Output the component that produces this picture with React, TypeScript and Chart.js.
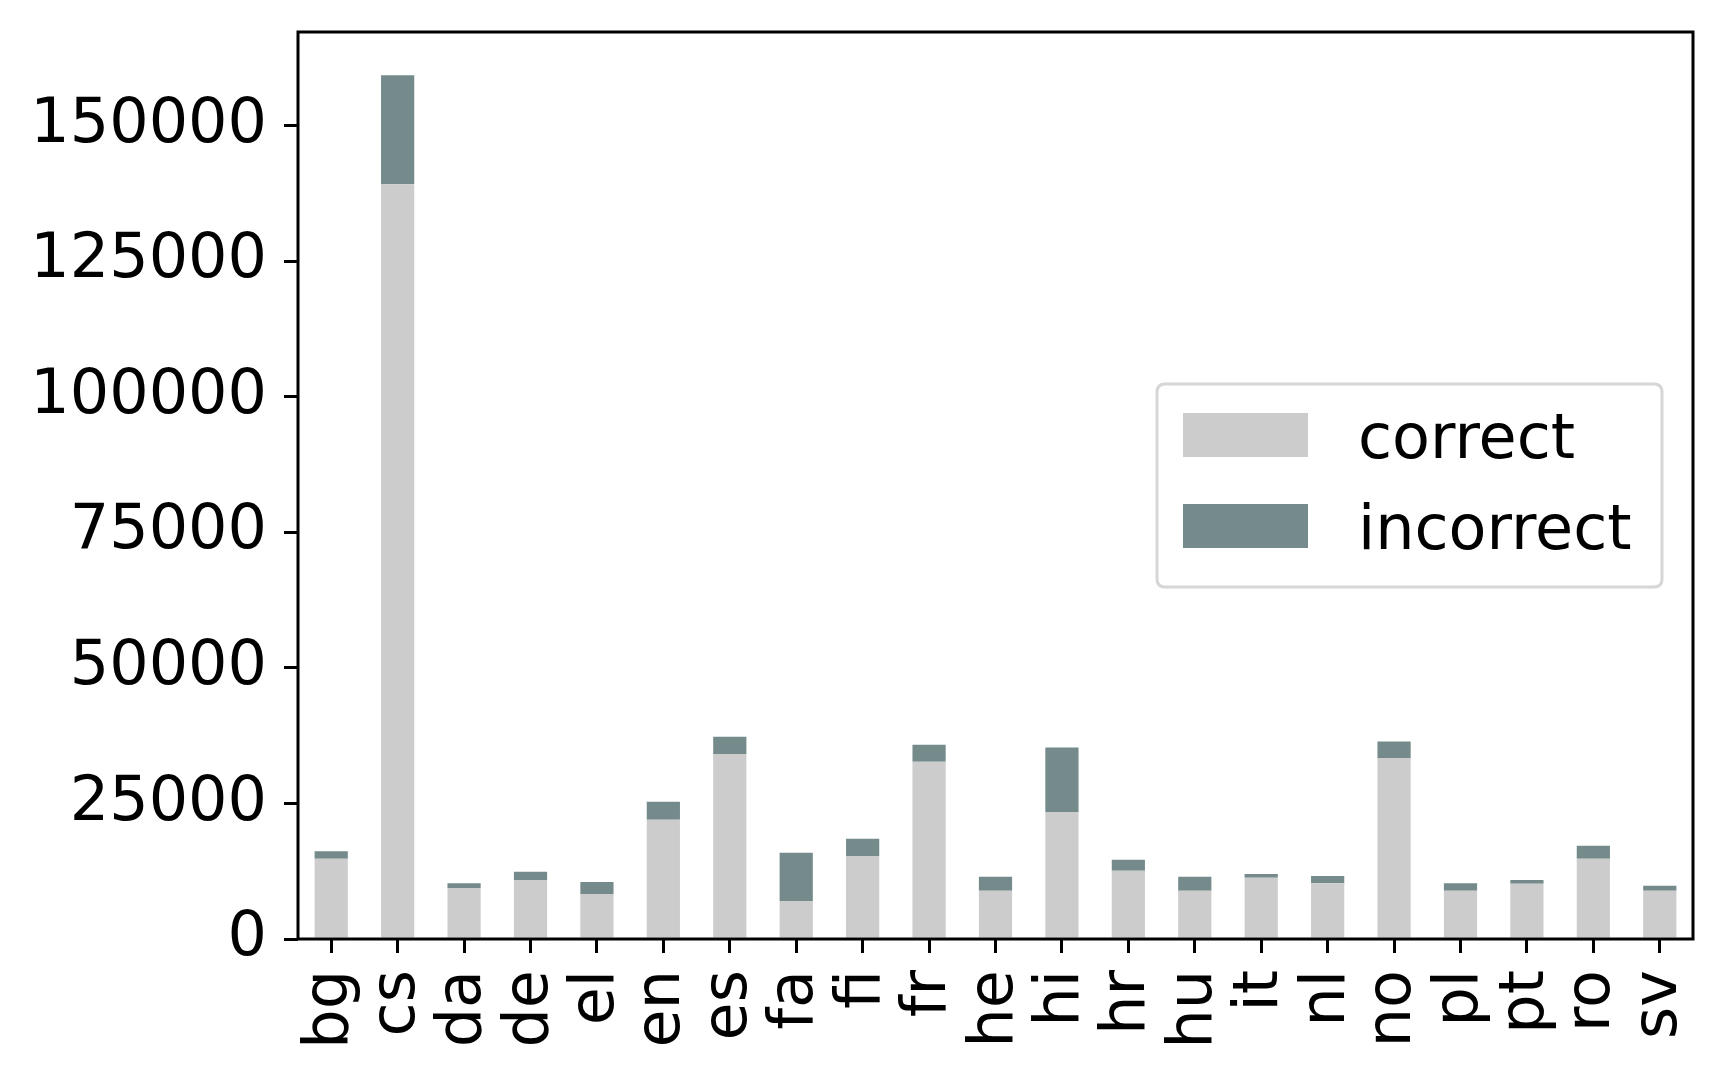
import React, { useEffect, useRef } from "react";
import { Chart, registerables } from "chart.js";

Chart.register(...registerables);

const categories = ["bg", "cs", "da", "de", "el", "en", "es", "fa", "fi", "fr", "he", "hi", "hr", "hu", "it", "nl", "no", "pl", "pt", "ro", "sv"];
const correctValues = [14800, 139200, 9400, 10900, 8300, 22000, 34100, 7000, 15300, 32700, 8900, 23400, 12600, 8900, 11300, 10300, 33400, 8900, 10200, 14800, 8900];
const incorrectValues = [1400, 20100, 900, 1500, 2200, 3300, 3200, 8900, 3200, 3100, 2600, 11900, 2000, 2600, 700, 1300, 3000, 1400, 700, 2400, 900];
const yTicks = [0, 25000, 50000, 75000, 100000, 125000, 150000];
const seriesNames = ["correct", "incorrect"];
const seriesColors = ["#cccccc", "#758b8b"];

const FONT = "'DejaVu Sans', sans-serif";
const FONT_SIZE = 62;

const framePlugin = {
  id: "frameAndLegend",
  afterDraw(chart: any) {
    const { ctx, chartArea } = chart;
    ctx.save();
    ctx.strokeStyle = "#000000";
    ctx.lineWidth = 3;
    ctx.strokeRect(chartArea.left, chartArea.top, chartArea.right - chartArea.left, chartArea.bottom - chartArea.top);
    const bx = chartArea.right - 536;
    const by = chartArea.top + 352;
    const bw = 505;
    const bh = 203;
    const r = 8;
    ctx.beginPath();
    ctx.moveTo(bx + r, by);
    ctx.lineTo(bx + bw - r, by);
    ctx.quadraticCurveTo(bx + bw, by, bx + bw, by + r);
    ctx.lineTo(bx + bw, by + bh - r);
    ctx.quadraticCurveTo(bx + bw, by + bh, bx + bw - r, by + bh);
    ctx.lineTo(bx + r, by + bh);
    ctx.quadraticCurveTo(bx, by + bh, bx, by + bh - r);
    ctx.lineTo(bx, by + r);
    ctx.quadraticCurveTo(bx, by, bx + r, by);
    ctx.closePath();
    ctx.fillStyle = "rgba(255,255,255,0.8)";
    ctx.fill();
    ctx.strokeStyle = "#d6d6d6";
    ctx.lineWidth = 3;
    ctx.stroke();
    chart.data.datasets.forEach((ds: any, i: number) => {
      const sy = by + 29 + i * 91;
      ctx.fillStyle = ds.backgroundColor;
      ctx.fillRect(bx + 26, sy, 125, 44);
      ctx.fillStyle = "#000000";
      ctx.font = `${FONT_SIZE}px ${FONT}`;
      ctx.textAlign = "left";
      ctx.textBaseline = "alphabetic";
      ctx.fillText(ds.label, bx + 201, sy + 45);
    });
    ctx.restore();
  },
};

export default function App() {
  const canvasRef = useRef<HTMLCanvasElement | null>(null);

  useEffect(() => {
    document.body.style.margin = "0";
    const canvas = canvasRef.current;
    if (!canvas) return;
    const totals = correctValues.map((v, i) => v + incorrectValues[i]);
    const yMax = Math.max(...totals) * 1.05;
    const chart = new Chart(canvas, {
      type: "bar",
      data: {
        labels: categories,
        datasets: [
          {
            label: seriesNames[0],
            data: correctValues,
            backgroundColor: seriesColors[0],
            borderWidth: 0,
            barPercentage: 0.5,
            categoryPercentage: 1,
          },
          {
            label: seriesNames[1],
            data: incorrectValues,
            backgroundColor: seriesColors[1],
            borderWidth: 0,
            barPercentage: 0.5,
            categoryPercentage: 1,
          },
        ],
      },
      options: {
        animation: false,
        responsive: true,
        maintainAspectRatio: false,
        layout: { padding: { top: 32, right: 33, left: 0, bottom: 0 } },
        plugins: {
          legend: { display: false },
          tooltip: { enabled: false },
        },
        scales: {
          x: {
            stacked: true,
            offset: true,
            grid: {
              offset: false,
              drawOnChartArea: false,
              drawTicks: true,
              tickLength: 14,
              tickWidth: 3,
              tickColor: "#000000",
              color: "#000000",
              lineWidth: 3,
            },
            border: { display: false },
            ticks: {
              autoSkip: false,
              minRotation: 90,
              maxRotation: 90,
              padding: 17,
              color: "#000000",
              font: { family: FONT, size: FONT_SIZE },
            },
            afterFit: (scale: any) => {
              scale.height = 138;
              scale.paddingLeft = 0;
              scale.paddingRight = 0;
              scale.paddingTop = 0;
              scale.paddingBottom = 0;
            },
          },
          y: {
            stacked: true,
            min: 0,
            max: yMax,
            grid: {
              drawOnChartArea: false,
              drawTicks: true,
              tickLength: 14,
              tickWidth: 3,
              tickColor: "#000000",
              color: "#000000",
              lineWidth: 3,
            },
            border: { display: false },
            afterBuildTicks: (scale: any) => {
              scale.ticks = yTicks.map((v) => ({ value: v }));
            },
            ticks: {
              includeBounds: false,
              padding: 17,
              color: "#000000",
              font: { family: FONT, size: FONT_SIZE },
              callback: (v: any) => String(v),
            },
            afterFit: (scale: any) => {
              scale.width = 298;
              scale.paddingLeft = 0;
              scale.paddingRight = 0;
              scale.paddingTop = 0;
              scale.paddingBottom = 0;
            },
          },
        },
      },
      plugins: [framePlugin],
    });
    return () => chart.destroy();
  }, []);

  return (
    <div style={{ width: 1726, height: 1077, position: "relative", background: "#ffffff" }}>
      <canvas ref={canvasRef} />
    </div>
  );
}
